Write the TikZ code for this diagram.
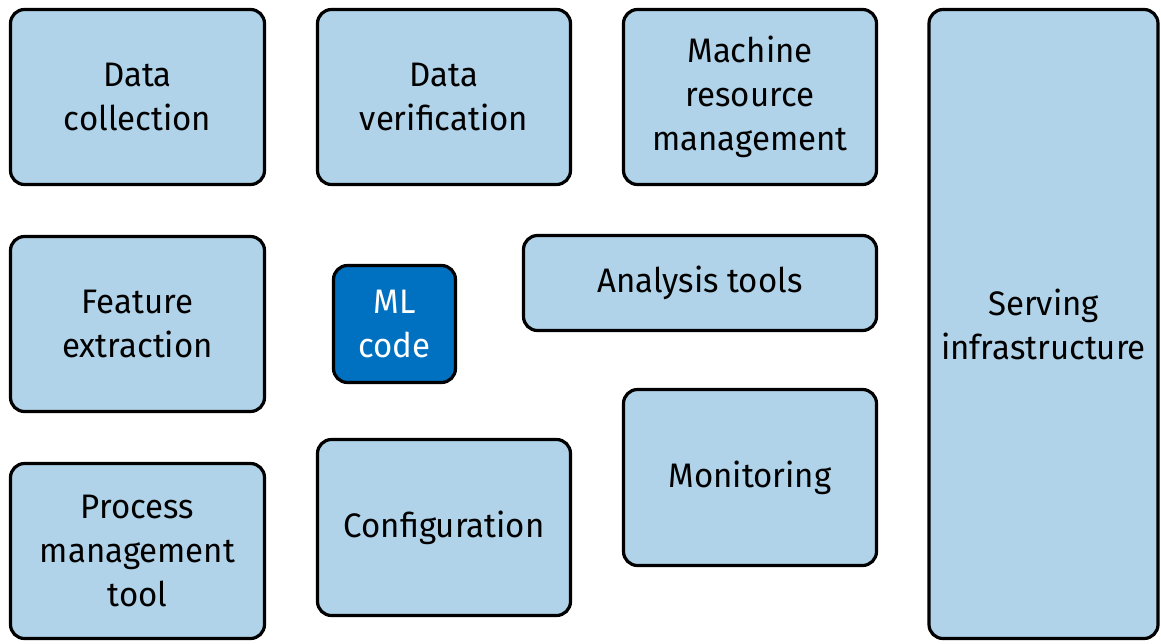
\documentclass[tikz,border=0pt]{standalone}
\usepackage{fontspec}
\setmainfont{Fira Sans}[FakeStretch=0.97]
\definecolor{boxfill}{RGB}{176,211,233}
\definecolor{mlfill}{RGB}{0,112,192}
\begin{document}
\begin{tikzpicture}[x=1pt,y=-1pt,
  block/.style={draw=black, line width=3.2pt, rounded corners=14pt, fill=boxfill,
    align=center, font=\fontsize{34}{44}\selectfont, text=black, inner sep=0pt},
  mlblock/.style={block, fill=mlfill, text=white}]
\useasboundingbox (0,0) rectangle (1161,643);
% top row
\node[block, minimum width=254pt, minimum height=175pt] (collect) at (137.5,97) {Data\\collection};
\node[block, minimum width=253pt, minimum height=175pt] (verify) at (444,97) {Data\\verification};
\node[block, minimum width=253pt, minimum height=175pt] (resource) at (750,97) {Machine\\resource\\management};
% right column
\node[block, minimum width=229pt, minimum height=629pt] (serving) at (1043.5,324) {Serving\\infrastructure};
% middle row
\node[block, minimum width=254pt, minimum height=175pt] (feature) at (137.5,324) {Feature\\extraction};
\node[mlblock, minimum width=122pt, minimum height=117pt] (ml) at (394.5,324) {ML\\code};
\node[block, minimum width=353pt, minimum height=95pt] (analysis) at (700,283) {Analysis tools};
% bottom row
\node[block, minimum width=253pt, minimum height=176pt] (monitor) at (750,477.5) {Monitoring};
\node[block, minimum width=254pt, minimum height=175pt] (process) at (137.5,551) {Process\\management\\tool};
\node[block, minimum width=253pt, minimum height=176pt] (config) at (444,527.5) {Configuration};
\end{tikzpicture}
\end{document}
